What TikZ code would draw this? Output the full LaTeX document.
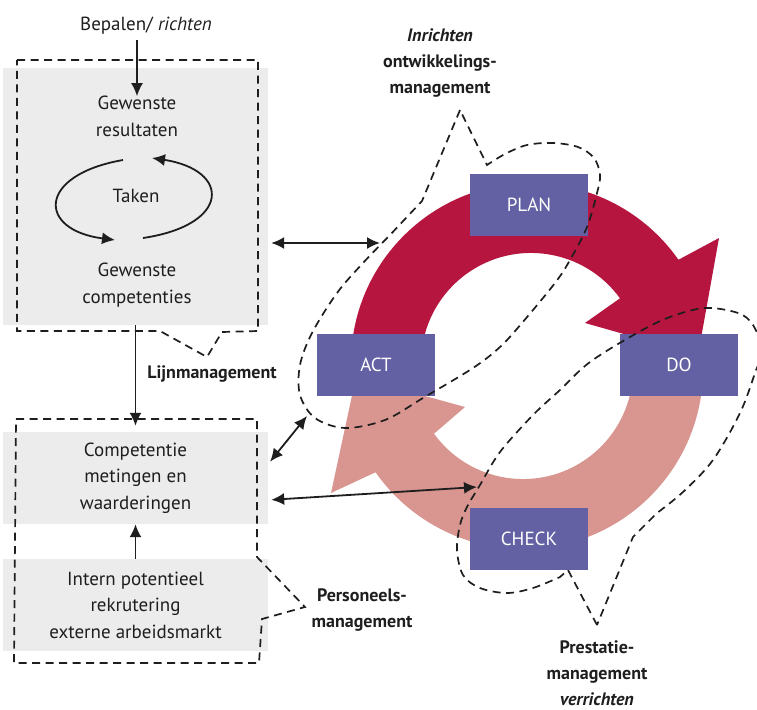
\documentclass[tikz,border=0pt]{standalone}
\usepackage{fontspec}
\setmainfont{PT Sans}
\usetikzlibrary{arrows.meta}
\definecolor{boxgray}{RGB}{236,236,236}
\definecolor{pdcablue}{RGB}{99,97,163}
\definecolor{plandark}{RGB}{181,21,62}
\definecolor{checklight}{RGB}{217,149,144}
\definecolor{ink}{RGB}{30,30,30}
\tikzset{
  graybox/.style={fill=boxgray,inner sep=0pt,minimum width=265pt,align=center,text=ink,font=\fontsize{19}{26.5}\selectfont},
  pdca/.style={fill=pdcablue,text=white,minimum width=118pt,minimum height=62pt,inner sep=0pt,font=\fontsize{19}{24}\selectfont},
  txt/.style={align=center,text=ink,inner sep=0pt,font=\fontsize{19}{26.5}\selectfont},
  lbl/.style={align=center,text=ink,inner sep=0pt,font=\fontsize{18}{26}\selectfont\bfseries},
  callout/.style={line width=1.7pt,ink,dash pattern=on 8pt off 5.5pt},
  dif/.style={-{Latex[length=13pt,width=12pt]},line width=1.8pt,ink},
  bidif/.style={{Latex[length=13pt,width=12pt]}-{Latex[length=13pt,width=12pt]},line width=1.8pt,ink,shorten <=3pt}
}

\begin{document}
\begin{tikzpicture}[x=1pt,y=1pt]
\useasboundingbox (0,0) rectangle (757,-709);

% left column
\node[graybox,minimum height=257pt] (wanted) at (135.5,-196.5) {};
\node[graybox,minimum height=92pt] (measure) at (135.5,-478) {Competentie\\metingen en\\waarderingen};
\node[graybox,minimum height=92pt] (intern) at (135.5,-605) {Intern potentieel\\rekrutering\\externe arbeidsmarkt};

\node[txt] (bepalen) at (146,-26) {Bepalen/ \textit{richten}};
\node[txt] (result) at (137,-116.5) {Gewenste\\resultaten};
\node[txt] (taken) at (136,-196) {Taken};
\node[txt] (compet) at (137,-285) {Gewenste\\competenties};

\node[lbl] (lijn) at (212,-374) {Lijnmanagement};
\node[lbl] (pers) at (362,-610) {Personeels-\\management};
\node[lbl] (inr) at (440,-63) {\textit{Inrichten}\\ontwikkelings-\\management};
\node[lbl] (prest) at (597,-673) {Prestatie-\\management\\\textit{verrichten}};

% the cycle
\fill[checklight] (703,-369) arc[start angle=0,end angle=-145,radius=180]
  -- (331,-493) -- (356,-377) -- (465,-407) -- (434,-433.7)
  arc[start angle=-144,end angle=0,radius=110] -- cycle;
\fill[plandark] (351,-363) arc[start angle=180,end angle=35,radius=180]
  -- (719,-238) -- (698,-355) -- (585,-323) -- (620,-298.3)
  arc[start angle=36,end angle=180,radius=110] -- cycle;

\node[pdca] (plan) at (529,-204.5) {PLAN};
\node[pdca] (act) at (376,-365) {ACT};
\node[pdca] (do) at (679,-365) {DO};
\node[pdca] (check) at (529,-538.5) {CHECK};

% dashed borders
\draw[callout] (17,-60) -- (258,-60) -- (258,-331) -- (222,-332) -- (207,-357) -- (160,-331) -- (17,-331) -- cycle;
\draw[callout] (16,-419) -- (257,-419) -- (257,-557) -- (305,-607) -- (262,-619) -- (259,-663) -- (14,-663) -- cycle;
\draw[callout] (460,-110) -- (422,-201) -- plot[smooth,tension=0.55] coordinates {(390,-235) (363,-263) (337,-293) (312,-333) (300,-365) (300,-395) (315,-418) (345,-428) (385,-420) (423,-398) (473,-368) (500,-347) (522,-323) (555,-283) (570,-260) (587,-227) (597,-193) (600,-175) (594,-158) (578,-147) (553,-143) (527,-145) (505,-154) (487,-165)} -- cycle;
\draw[callout] (597,-625) -- (568,-570) -- plot[smooth,tension=0.55] coordinates {(560,-577) (533,-588) (507,-593) (480,-588) (463,-575) (457,-550) (460,-525) (467,-507) (480,-485) (500,-452) (533,-415) (560,-390) (590,-362) (637,-333) (670,-317) (705,-308) (738,-313) (753,-325) (762,-350) (755,-373) (740,-413) (713,-460) (683,-492) (657,-513)} -- (633,-537) -- cycle;

% arrows
\draw[dif] (result.north |- bepalen.south) ++(0,-5) -- (result.north);
\draw[dif,shorten >=6pt] (wanted.south) -- (measure.north);
\draw[dif] (intern.north) -- (measure.south);
\draw[dif] (taken) ++(-13,36) .. controls +(-86,-15) and +(-78,10) .. ++(-8,-80);
\draw[dif] (taken) ++(7,-42) .. controls +(88,13) and +(79,-12) .. ++(9,80);

\coordinate (ringA) at (380,-243);
\coordinate (ringB) at (307,-416);
\coordinate (ringC) at (477,-487);
\draw[bidif] (wanted.east |- ringA) -- (ringA);
\draw[bidif] ([yshift=14]measure.east) -- (ringB);
\draw[bidif] ([yshift=-22]measure.east) -- (ringC);
\end{tikzpicture}
\end{document}
